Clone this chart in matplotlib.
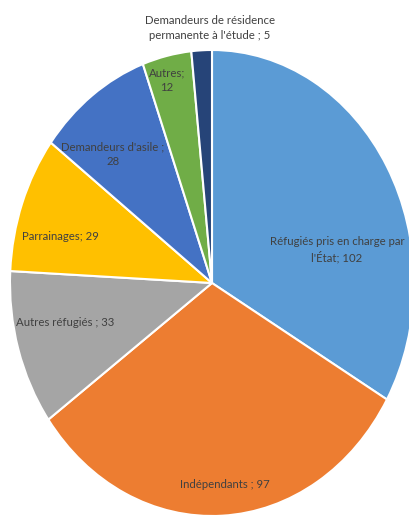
import matplotlib
matplotlib.use("Agg")
import matplotlib.pyplot as plt

labels = ["Réfugiés pris en charge par\nl'État; 102", "Indépendants ; 97", "Autres réfugiés ; 33",
          "Parrainages; 29", "Demandeurs d'asile ;\n28", "Autres;\n12",
          "Demandeurs de résidence\npermanente à l'étude ; 5"]
values = [102, 97, 33, 29, 28, 12, 5]
colors = ["#5B9BD5", "#ED7D31", "#A5A5A5", "#FFC000", "#4472C4", "#70AD47", "#264478"]
# label centres in pixels (x, y from top)
label_px = [(337, 250), (225, 485), (65, 323), (60, 236), (113, 154), (167, 80), (210, 28)]

W, H = 409, 517
fig = plt.figure(figsize=(W / 100, H / 100), dpi=100)
# pie spans x 10..414, y 50..516 (stretched vertically, clipped at right)
ax = fig.add_axes([10 / W, 1 / H, 404 / W, 466 / H])
ax.pie(values, colors=colors, startangle=90, counterclock=False,
       wedgeprops=dict(edgecolor="white", linewidth=1.5))
ax.set_aspect("auto")
ax.set_xlim(-1, 1)
ax.set_ylim(-1, 1)
ax.axis("off")

fam = ["Lato", "DejaVu Sans"]
for (px, py), lab in zip(label_px, labels):
    fig.text(px / W, 1 - py / H, lab, ha="center", va="center", fontsize=8.2,
             color="#404040", family=fam, linespacing=1.35)

fig.savefig("out.png", dpi=100)
